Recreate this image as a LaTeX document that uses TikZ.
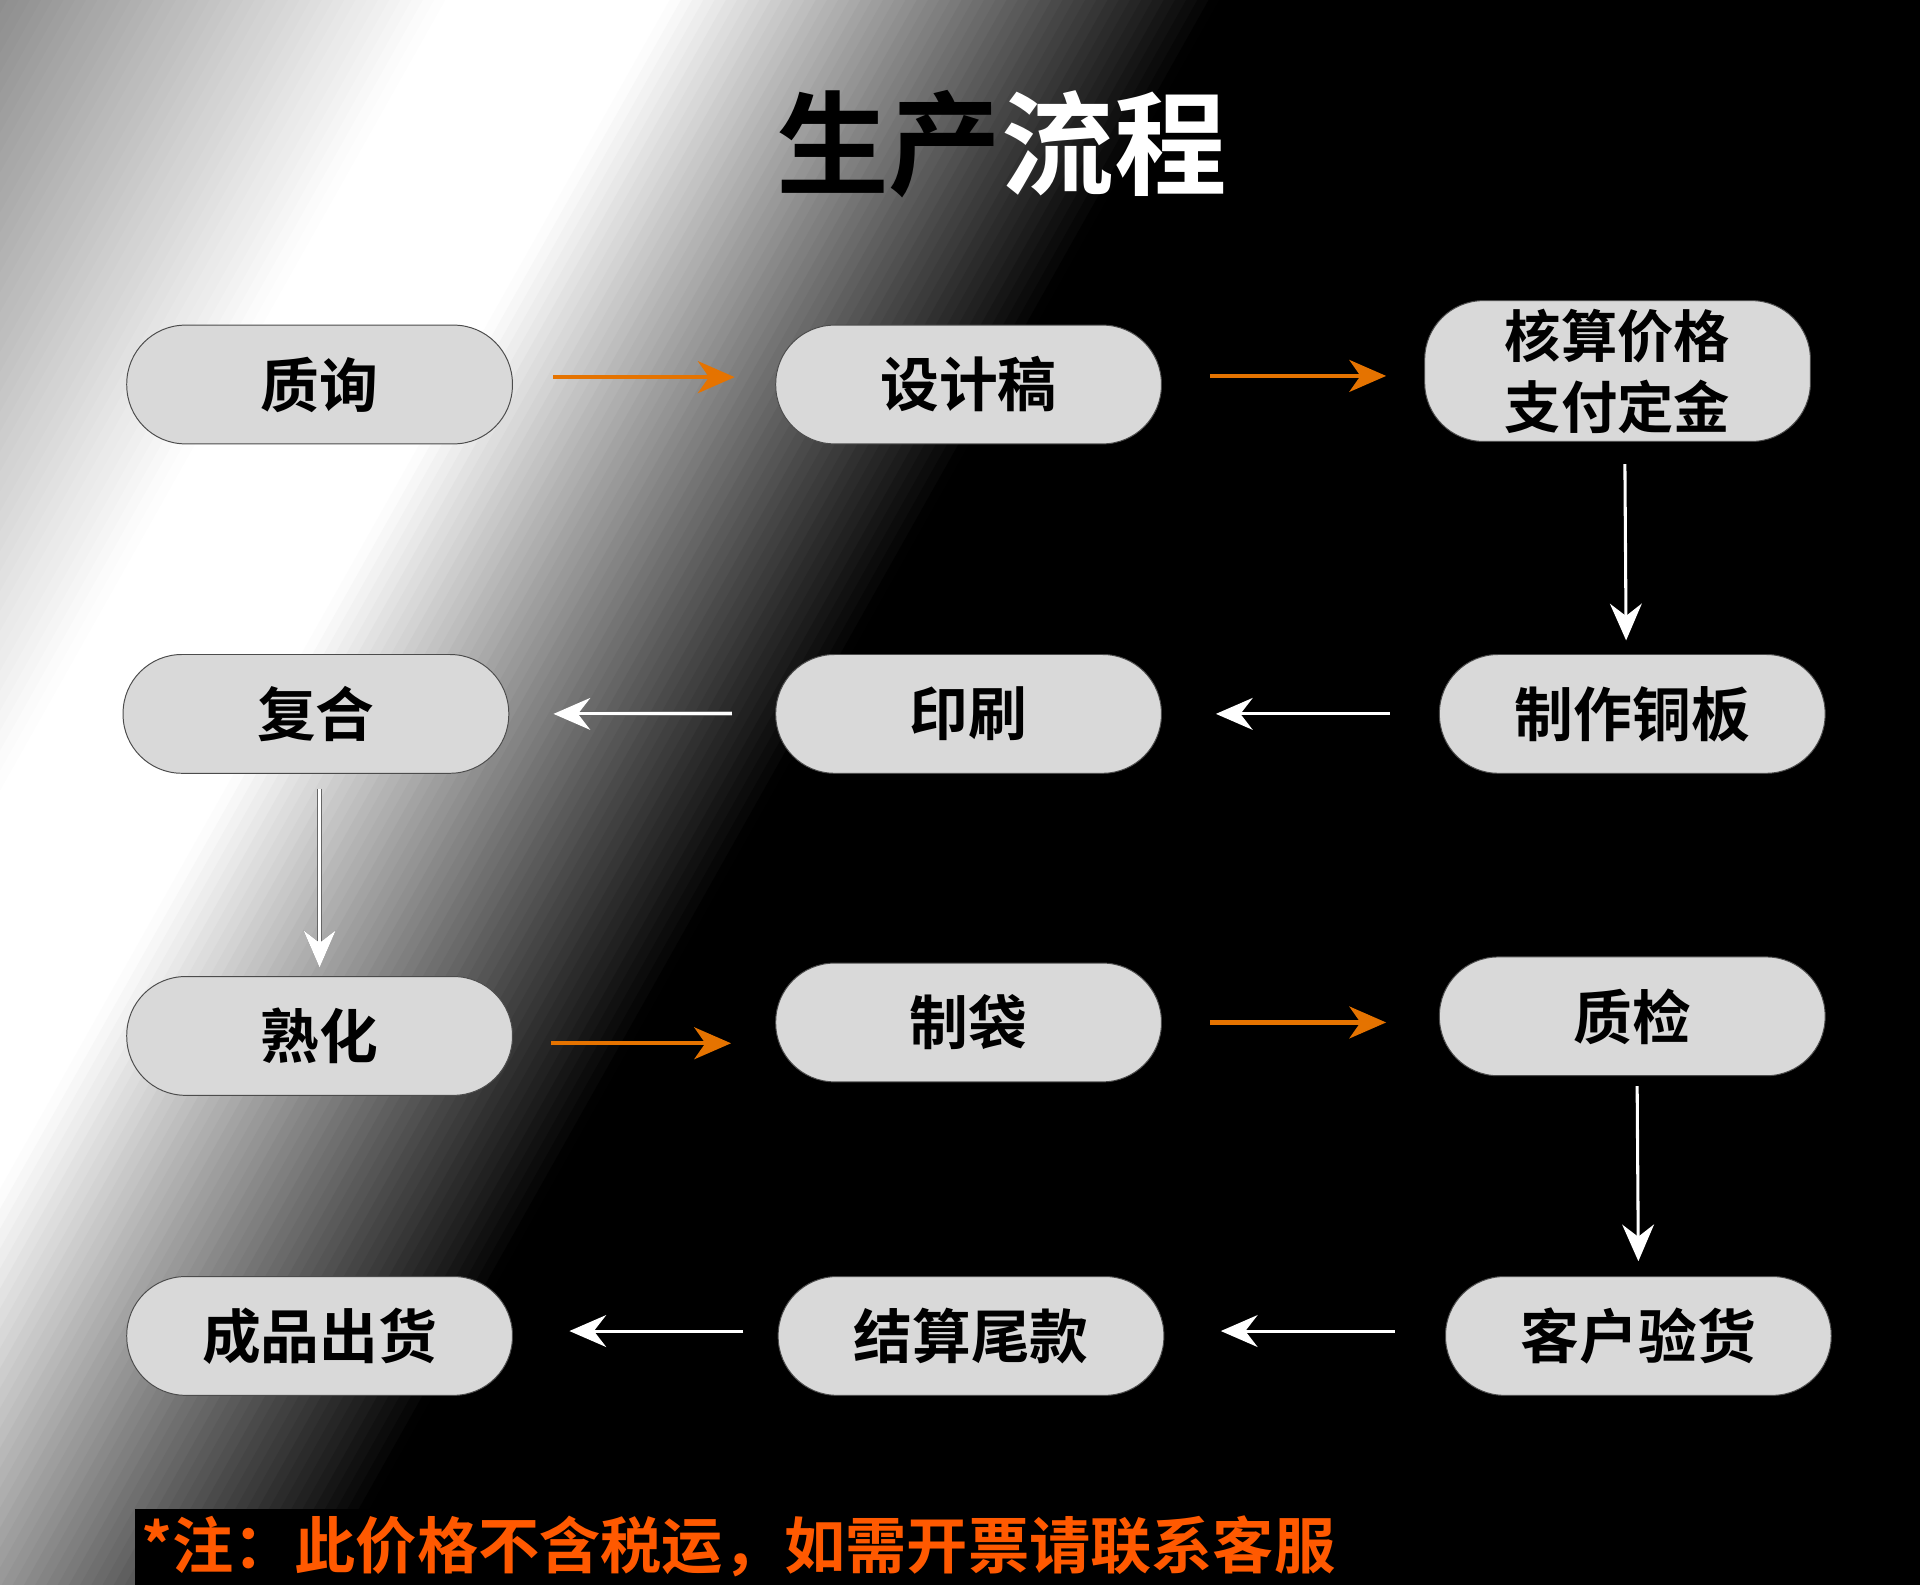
\documentclass[tikz,border=0pt]{standalone}
\usepackage{fontspec}
\newfontfamily\cjk{Noto Sans CJK SC}
\newfontfamily\cjkb{Noto Sans CJK SC Bold}
\usetikzlibrary{arrows.meta}
\begin{document}
\begin{tikzpicture}[x=1pt,y=-1pt,
  box/.style={draw=black!70, line width=0.8pt, fill=black!15, rounded corners=48pt, minimum width=315pt, minimum height=97pt, font=\cjkb\fontsize{48}{54}\selectfont, align=center},
  oarr/.style={draw=orange!90!black, line width=3.5pt, -{Stealth[length=30pt,width=26pt,inset=9pt]}},
  warr/.style={draw=white, line width=2.5pt, -{Stealth[length=30pt,width=26pt,inset=10pt]}}]
\useasboundingbox (0,0) rectangle (1568,1294);
\begin{scope}
\clip (0,0) rectangle (1568,1294);
\fill[black] (0,0) rectangle (1568,1294);
\foreach \s in {-1000,-992,...,600}{
  \pgfmathsetmacro\p{ifthenelse(\s<-420,45,ifthenelse(\s<-100,0.140625*(-100-\s),ifthenelse(\s<60,0,ifthenelse(\s<450,(\s-60)/3.9,100))))}
  \pgfmathsetmacro\p{min(100,max(0,\p))}
  \pgfmathsetmacro\cx{240+\s*0.87}
  \pgfmathsetmacro\cy{425+\s*0.49}
  \fill[black!\p] ({\cx+1470-5*0.87},{\cy-2610-5*0.49}) -- ({\cx+1470+5*0.87},{\cy-2610+5*0.49}) -- ({\cx-1470+5*0.87},{\cy+2610+5*0.49}) -- ({\cx-1470-5*0.87},{\cy+2610-5*0.49}) -- cycle;
}
\end{scope}
\node[font=\cjkb\fontsize{92}{100}\selectfont, inner sep=0] (title) at (818,118) {\textcolor{black}{生产}\textcolor{white}{流程}};
\node[box] (a) at (261,314) {质询};
\node[box] (b) at (791,314) {设计稿};
\node[box, minimum height=115pt, font=\cjkb\fontsize{46}{58}\selectfont] (c) at (1321,303) {核算价格\\支付定金};
\node[box] (d) at (258,583) {复合};
\node[box] (e) at (791,583) {印刷};
\node[box] (f) at (1333,583) {制作铜板};
\node[box] (g) at (261,846) {熟化};
\node[box] (h) at (791,835) {制袋};
\node[box] (i) at (1333,830) {质检};
\node[box] (j) at (261,1091) {成品出货};
\node[box] (k) at (793,1091) {结算尾款};
\node[box] (l) at (1338,1091) {客户验货};
\coordinate (a1) at (452,308); \coordinate (a2) at (600,308);
\coordinate (b1) at (988,307); \coordinate (b2) at (1132,307);
\coordinate (c1) at (1327,379); \coordinate (c2) at (1328,523);
\coordinate (f1) at (1135,583); \coordinate (f2) at (993,583);
\coordinate (e1) at (598,583); \coordinate (e2) at (452,583);
\coordinate (d1) at (261,644); \coordinate (d2) at (261,790);
\coordinate (g1) at (450,852); \coordinate (g2) at (597,852);
\coordinate (h1) at (988,835); \coordinate (h2) at (1132,835);
\coordinate (i1) at (1337,887); \coordinate (i2) at (1338,1030);
\coordinate (l1) at (1139,1087); \coordinate (l2) at (997,1087);
\coordinate (k1) at (607,1087); \coordinate (k2) at (465,1087);
\draw[oarr] (a1) -- (a2);
\draw[oarr] (b1) -- (b2);
\draw[warr] (c1) -- (c2);
\draw[warr] (f1) -- (f2);
\draw[draw=black!60, line width=4pt, -{Stealth[length=30pt,width=26pt,inset=10pt]}] (e1) -- (e2);
\draw[warr] (e1) -- (e2);
\draw[draw=black!60, line width=4pt, -{Stealth[length=30pt,width=26pt,inset=10pt]}] (d1) -- (d2);
\draw[warr] (d1) -- (d2);
\draw[oarr] (g1) -- (g2);
\draw[oarr] (h1) -- (h2);
\draw[warr] (i1) -- (i2);
\draw[warr] (l1) -- (l2);
\draw[warr] (k1) -- (k2);
\fill[black] (110,1232) rectangle (1105,1294);
\node[font=\cjkb\fontsize{50}{54}\selectfont, text=orange!70!red, anchor=west, inner sep=0] (note) at (115,1263) {*注：此价格不含税运，如需开票请联系客服};
\end{tikzpicture}
\end{document}
